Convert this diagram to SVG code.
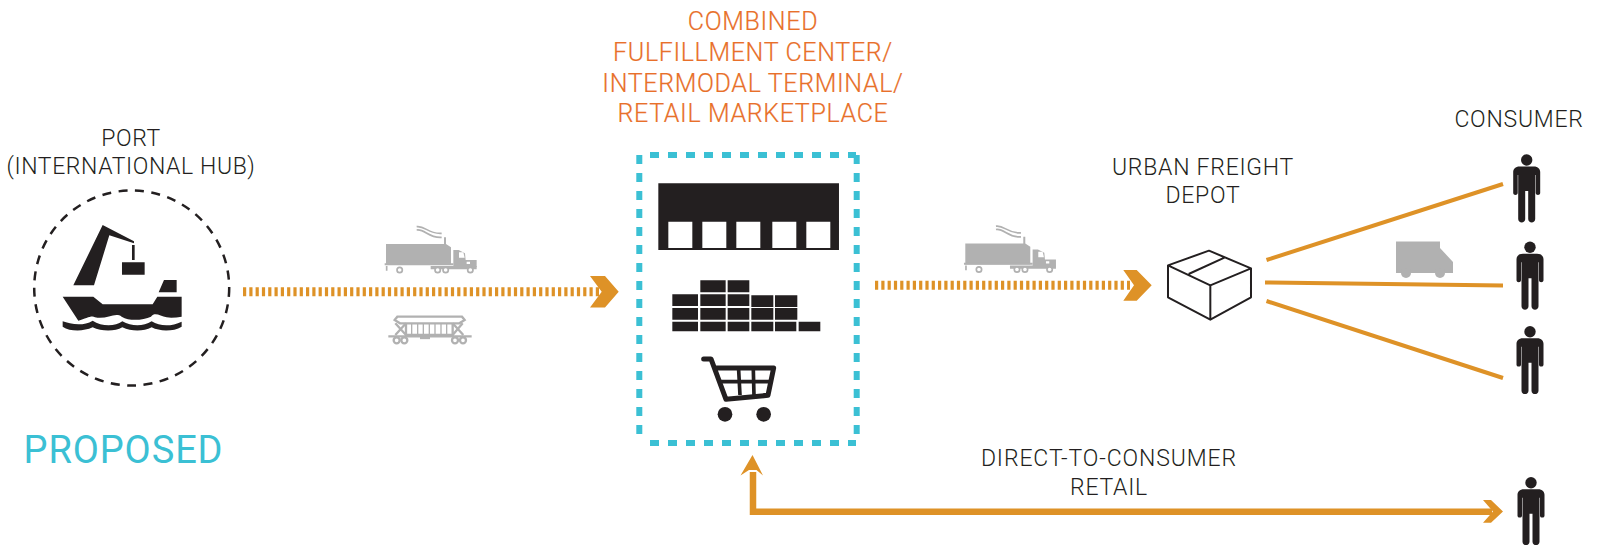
<svg xmlns="http://www.w3.org/2000/svg" xmlns:xlink="http://www.w3.org/1999/xlink" width="1606" height="553" viewBox="0 0 1606 553">
<style>
text{font-family:Roboto,"Liberation Sans",sans-serif;font-weight:300;text-anchor:middle}
.k{font-size:23px;fill:#231f20;letter-spacing:.75px}
.k2{letter-spacing:.6px}
.k3{letter-spacing:.9px}
.o{font-size:25px;fill:#e8702a;letter-spacing:.65px;stroke:#e8702a;stroke-width:.2px}
.p{font-size:38px;fill:#3bc0d4;font-weight:400;letter-spacing:.9px}
.b{fill:#231f20}
.g{fill:#b1b1b1}
.gl{fill:none;stroke:#b1b1b1}
.gold{fill:none;stroke:#de9227}
.goldf{fill:#de9227}
.dot{fill:none;stroke:#de9227;stroke-width:9;stroke-dasharray:3.2 3.1}
.teal{fill:none;stroke:#3bc0d4;stroke-width:6;stroke-dasharray:9 9}
</style>
<defs>
<g id="truck">
<path class="g" d="M48 102H222V82H228V102L243 112V165H48Z"/>
<path class="g" d="M250 120H266L285 130L287 150H320V172H250Z"/>
<path class="g" d="M44 160H250V166H44ZM182 168H320V178H182Z"/>
<path class="gl" stroke-width="5" d="M140 50C165 46 175 73 215 70M140 60C165 56 175 85 215 82M50 168V182"/>
<g fill="#fff" stroke="#b1b1b1" stroke-width="5"><circle cx="89" cy="180" r="8"/><circle cx="203" cy="180" r="8"/><circle cx="227" cy="180" r="8"/><circle cx="301" cy="180" r="8"/></g>
<path fill="#fff" d="M267 127H280L284 143H267ZM290 155H300V162H290Z"/>
</g>
<g id="person">
<circle class="b" cx="0" cy="0" r="5.700"/>
<path class="b" d="M-7 6.500H7C11.500 6.500 13.500 9 13.500 12V33C13.500 35.500 9 35.500 9 33V15H8.500V59C8.500 63.500 1.500 63.500 1.500 59V31H-1.500V59C-1.500 63.500 -8.500 63.500 -8.500 59V15H-9V33C-9 35.500 -13.500 35.500 -13.500 33V12C-13.500 9 -11.500 6.500 -7 6.500Z"/>
</g>
</defs>

<g id="connectors">
<path class="dot" d="M243 291.700H602"/>
<path class="goldf" d="M590 276H605L618.700 291.700L605 307.400H590L601.700 291.700Z"/>
<path class="dot" d="M875 285.300H1130"/>
<path class="goldf" d="M1123.300 270H1136.700L1151.700 285.300L1136.700 300.700H1123.300L1134 285.300Z"/>
<g class="gold" stroke-width="4">
<path d="M1266.500 260L1503 184"/>
<path d="M1265 282.500L1503 285.500"/>
<path d="M1266.500 301L1503 378"/>
</g>
<path class="gold" stroke-width="6.500" d="M753 472V511.700H1492"/>
<path class="goldf" d="M740.500 475.500L752.500 455L763 475.500L756.500 470H749Z"/>
<path class="goldf" d="M1483 500H1491L1503 511.500L1491 522.700H1483L1493 511.500Z"/>
</g>

<g id="port">
<circle cx="131.700" cy="288" r="97.500" fill="none" stroke="#231f20" stroke-width="2.500" stroke-dasharray="9 7.500"/>
<g transform="translate(20 180) scale(.3333)">
<path class="b" d="M248 135L342 184V190L268 166L222 316H160Z"/>
<path class="b" d="M336 195H344V240H336ZM306 247H374V284H306ZM432 300H470V337H416Z"/>
<path class="b" d="M128 350H220L248 373H398L412 350H485V410C470 412 455 415 440 412C420 408 405 395 393 410C370 420 330 425 305 410C285 395 260 420 225 412C215 405 200 415 175 422Z"/>
<path class="b" d="M128 424C150 432 190 440 218 422C245 440 285 440 307 424C335 440 370 440 395 424C420 440 455 440 485 425V440C460 455 420 455 395 442C370 455 335 455 307 442C285 455 245 455 218 442C190 455 150 455 128 440Z"/>
</g>
<text class="k k2" x="131" y="146">PORT</text>
<text class="k k2" x="131" y="174">(INTERNATIONAL HUB)</text>
<text class="p" x="123.500" y="463">PROPOSED</text>
</g>

<g id="transport-rail-truck">
<g transform="translate(370 210) scale(.3333)"><use href="#truck"/></g>
<g transform="translate(370 210) scale(.3333)" class="gl" stroke-width="7">
<path d="M82 320H276L284 330L268 340H90L74 330Z"/>
<path d="M108 340V375H248V340"/>
<path stroke-width="4" d="M125 340V375M143 340V375M160 340V375M178 340V375M195 340V375M213 340V375M230 340V375"/>
<path d="M76 340L108 375M108 340L76 375M278 340L248 375M248 340L280 375"/>
<path d="M55 379H305"/>
<circle cx="80" cy="391" r="9" fill="#fff"/><circle cx="103" cy="391" r="9" fill="#fff"/><circle cx="255" cy="391" r="9" fill="#fff"/><circle cx="279" cy="391" r="9" fill="#fff"/>
<path d="M150 384H180"/>
</g>
</g>

<g id="fulfillment-center">
<path class="teal" d="M639.300 155V443M856.700 155V443"/>
<path class="teal" d="M650 155H856M650 443H856"/>
<g transform="translate(630 150) scale(.3333)">
<path class="b" fill-rule="evenodd" d="M85 100H627V300H85ZM115 215V294H187V215ZM217 215V294H289V215ZM319 215V294H391V215ZM427 215V294H499V215ZM529 215V294H601V215Z"/>
<path class="b" d="M211 391H287V427H211ZM293 391H358V427H293ZM127 433H204V468H127ZM211 433H287V468H211ZM293 433H358V468H293ZM364 436H430V471H364ZM435 436H502V471H435ZM127 474H204V509H127ZM211 474H287V509H211ZM293 474H358V509H293ZM364 474H430V509H364ZM435 474H502V509H435ZM127 515H204V544H127ZM211 515H287V544H211ZM293 515H358V544H293ZM364 515H430V544H364ZM435 515H499V544H435ZM506 515H571V544H506Z"/>
<path fill="none" stroke="#231f20" stroke-width="15" stroke-linecap="round" stroke-linejoin="round" d="M221 627H243L288 748L414 736L431 654H255"/>
<path fill="none" stroke="#231f20" stroke-width="11" d="M270 695H424M326 660L330 735M370 660L372 735"/>
<circle class="b" cx="285" cy="793" r="22"/><circle class="b" cx="401" cy="793" r="22"/>
</g>
<text class="o" x="753" y="30">COMBINED</text>
<text class="o" x="753" y="61">FULFILLMENT CENTER/</text>
<text class="o" x="753" y="92">INTERMODAL TERMINAL/</text>
<text class="o" x="753" y="122">RETAIL MARKETPLACE</text>
</g>

<g id="transport-truck">
<g transform="translate(949.300 209.500) scale(.3333)"><use href="#truck"/></g>
</g>

<g id="depot">
<text class="k" x="1203" y="175">URBAN FREIGHT</text>
<text class="k" x="1203" y="203">DEPOT</text>
<g transform="translate(1150 140) scale(.3333)" fill="none" stroke="#231f20" stroke-width="6" stroke-linejoin="round">
<path d="M54 376L177 332L303 385L181 436ZM54 376V472L181 539L303 472V385M181 436V539M116 402L225 352"/>
</g>
</g>

<g id="delivery-van">
<path class="g" d="M1396 241.500H1440V248L1453 262V273H1396Z"/>
<circle class="g" cx="1406" cy="273" r="5"/><circle class="g" cx="1440" cy="273" r="5"/>
</g>

<g id="consumer-1"><use href="#person" x="1526.700" y="160"/></g>
<g id="consumer-2"><use href="#person" x="1530" y="247.300"/></g>
<g id="consumer-3"><use href="#person" x="1530" y="331.700"/></g>
<g id="consumer-4"><use href="#person" x="1531" y="482.700"/></g>
<text class="k" x="1519" y="127">CONSUMER</text>

<text class="k k3" x="1109" y="466">DIRECT-TO-CONSUMER</text>
<text class="k" x="1109" y="495">RETAIL</text>
</svg>
